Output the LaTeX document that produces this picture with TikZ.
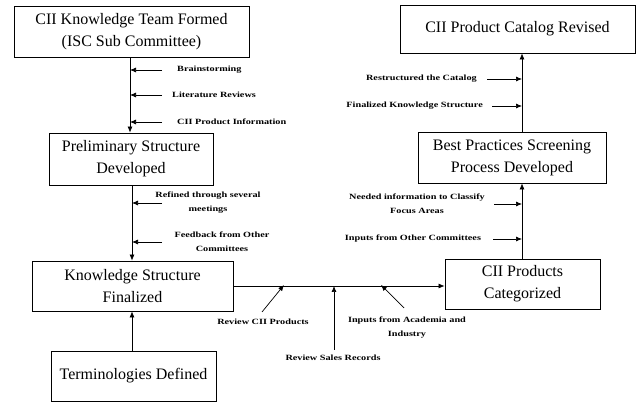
\documentclass[tikz,border=0pt]{standalone}
\usepackage{fontspec}
\setmainfont{Liberation Serif}
\newfontfamily\lblfont[FakeStretch=1.28]{Liberation Serif}
\usetikzlibrary{arrows.meta,calc}
\begin{document}
\begin{tikzpicture}[x=1pt,y=-1pt,
  box/.style={draw,line width=0.8pt,align=center,inner sep=0pt,font=\fontsize{16}{22}\selectfont},
  lbl/.style={font=\lblfont\bfseries\fontsize{8}{14}\selectfont,inner sep=0pt,align=center},
  arr/.style={line width=0.7pt,-{Latex[length=6pt,width=5pt]}},
  ln/.style={line width=0.7pt}]
\useasboundingbox (0,0) rectangle (640,403);
% boxes
\node[box,minimum width=235,minimum height=51] (b1) at (131.5,31.5) {CII Knowledge Team Formed\\(ISC Sub Committee)};
\node[box,minimum width=164,minimum height=52] (b2) at (131,159) {Preliminary Structure\\Developed};
\node[box,minimum width=201,minimum height=50] (b3) at (132.5,286) {Knowledge Structure\\Finalized};
\node[box,minimum width=165,minimum height=50] (b4) at (133.5,376) {Terminologies Defined};
\node[box,minimum width=155,minimum height=50] (b5) at (522.5,284) {CII Products\\Categorized};
\node[box,minimum width=188,minimum height=51] (b6) at (512,157.5) {Best Practices Screening\\Process Developed};
\node[box,minimum width=235,minimum height=48] (b7) at (517.5,29) {CII Product Catalog Revised};
% main flow
\coordinate (v1) at (130,0);
\coordinate (v2) at (132,0);
\coordinate (v5) at (522,0);
\draw[arr] (b1.south -| v1) -- (b2.north -| v1);
\draw[arr] (b2.south -| v2) -- (b3.north -| v2);
\draw[arr] (b4.north -| v2) -- (b3.south -| v2);
\draw[arr] (b3.east) -- (b3.east -| b5.west);
\draw[arr] (b5.north -| v5) -- (b6.south -| v5);
\draw[arr] (b6.north -| v5) -- (b7.south -| v5);
% inputs to first link
\node[lbl,anchor=west] (l1) at (177,70) {Brainstorming};
\node[lbl,anchor=west] (l2) at (172,95) {Literature Reviews};
\node[lbl,anchor=west] (l3) at (177,122) {CII Product Information};
\coordinate (s1) at (162,70);
\coordinate (s2) at (162,95);
\coordinate (s3) at (162,122);
\draw[arr] (s1) -- (s1 -| v1);
\draw[arr] (s2) -- (s2 -| v1);
\draw[arr] (s3) -- (s3 -| v1);
% inputs to second link
\node[lbl] (l4) at (208,203) {Refined through several\\meetings};
\node[lbl] (l5) at (222,242) {Feedback from Other\\Committees};
\coordinate (s4) at (162,203);
\coordinate (s5) at (162,242);
\draw[arr] (s4) -- (s4 -| v2);
\draw[arr] (s5) -- (s5 -| v2);
% inputs to horizontal link
\node[lbl] (l6) at (263,322) {Review CII Products};
\node[lbl] (l7) at (333,358) {Review Sales Records};
\node[lbl] (l8) at (407,328) {Inputs from Academia and\\Industry};
\coordinate (s6) at (262,312);
\coordinate (t6) at (284,285);
\coordinate (s7) at (334,350);
\coordinate (s8) at (404,308);
\coordinate (t8) at (381,285);
\draw[arr] (s6) -- (t6);
\draw[arr] (s7) -- (s7 |- b3.east);
\draw[arr] (s8) -- (t8);
% inputs to right links
\node[lbl] (l9) at (417,204) {Needed information to Classify\\Focus Areas};
\node[lbl] (l10) at (413,239) {Inputs from Other Committees};
\coordinate (s9) at (494,204);
\coordinate (s10) at (493,239);
\draw[arr] (s9) -- (s9 -| v5);
\draw[arr] (s10) -- (s10 -| v5);
\node[lbl,anchor=east] (l11) at (477,79) {Restructured the Catalog};
\node[lbl,anchor=east] (l12) at (483,106) {Finalized Knowledge Structure};
\coordinate (s11) at (487,79);
\coordinate (s12) at (492,106);
\draw[arr] (s11) -- (s11 -| v5);
\draw[arr] (s12) -- (s12 -| v5);
\end{tikzpicture}
\end{document}
